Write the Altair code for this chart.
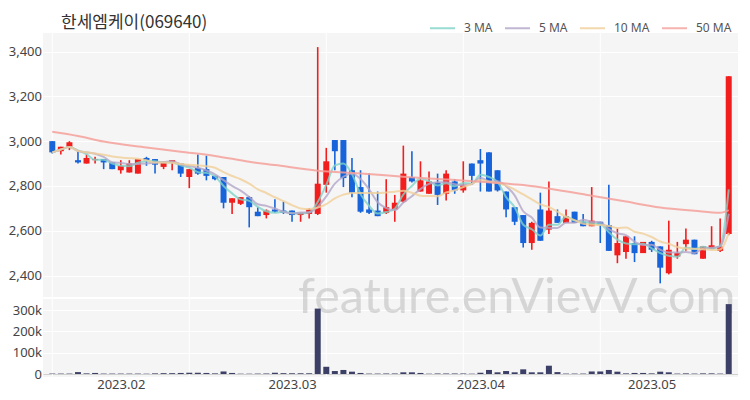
import altair as alt
import pandas as pd

TITLE = "한세엠케이(069640)"
WATERMARK = "feature.enVievV.com"

dates = [
    "2023-01-18", "2023-01-19", "2023-01-20", "2023-01-25", "2023-01-26", "2023-01-27", "2023-01-30", "2023-01-31",
    "2023-02-01", "2023-02-02", "2023-02-03", "2023-02-06", "2023-02-07", "2023-02-08", "2023-02-09", "2023-02-10",
    "2023-02-13", "2023-02-14", "2023-02-15", "2023-02-16", "2023-02-17", "2023-02-20", "2023-02-21", "2023-02-22",
    "2023-02-23", "2023-02-24", "2023-02-27", "2023-02-28",
    "2023-03-02", "2023-03-03", "2023-03-06", "2023-03-07", "2023-03-08", "2023-03-09", "2023-03-10", "2023-03-13",
    "2023-03-14", "2023-03-15", "2023-03-16", "2023-03-17", "2023-03-20", "2023-03-21", "2023-03-22", "2023-03-23",
    "2023-03-24", "2023-03-27", "2023-03-28", "2023-03-29", "2023-03-30", "2023-03-31",
    "2023-04-03", "2023-04-04", "2023-04-05", "2023-04-06", "2023-04-07", "2023-04-10", "2023-04-11", "2023-04-12",
    "2023-04-13", "2023-04-14", "2023-04-17", "2023-04-18", "2023-04-19", "2023-04-20", "2023-04-21", "2023-04-24",
    "2023-04-25", "2023-04-26", "2023-04-27", "2023-04-28",
    "2023-05-02", "2023-05-03", "2023-05-04", "2023-05-08", "2023-05-09", "2023-05-10", "2023-05-11", "2023-05-12",
    "2023-05-15", "2023-05-16",
]

opens = [3000, 2955, 2975, 2915, 2900, 2915, 2920, 2905, 2870, 2860,
         2855, 2925, 2920, 2885, 2905, 2900, 2840, 2880, 2875, 2845,
         2840, 2725, 2720, 2750, 2685, 2670, 2695, 2690, 2690, 2670,
         2675, 2675, 2805, 3005, 3005, 2870, 2795, 2695, 2690, 2680,
         2695, 2730, 2840, 2775, 2765, 2815, 2765, 2820, 2780, 2900,
         2915, 2950, 2870, 2775, 2705, 2670, 2545, 2695, 2605, 2665,
         2635, 2685, 2640, 2620, 2640, 2625, 2490, 2505, 2545, 2500,
         2550, 2530, 2410, 2485, 2540, 2560, 2475, 2520, 2510, 2585]
highs = [3000, 2975, 3000, 2960, 2940, 2930, 2920, 2905, 2915, 2915,
         2920, 2930, 2920, 2905, 2915, 2900, 2875, 2940, 2935, 2845,
         2840, 2745, 2750, 2755, 2705, 2695, 2740, 2730, 2690, 2680,
         2700, 3420, 2970, 3005, 3005, 2925, 2870, 2855, 2775, 2830,
         2760, 2980, 2955, 2910, 2865, 2855, 2870, 2830, 2910, 2900,
         2965, 2950, 2870, 2775, 2705, 2670, 2640, 2770, 2820, 2695,
         2695, 2685, 2675, 2795, 2640, 2805, 2610, 2575, 2575, 2550,
         2555, 2530, 2645, 2550, 2610, 2560, 2530, 2620, 2655, 3290]
lows = [2945, 2940, 2960, 2900, 2900, 2900, 2875, 2875, 2855, 2860,
        2855, 2890, 2855, 2875, 2870, 2840, 2790, 2850, 2825, 2825,
        2700, 2675, 2715, 2615, 2665, 2655, 2680, 2675, 2640, 2640,
        2655, 2670, 2770, 2870, 2795, 2750, 2680, 2675, 2665, 2675,
        2640, 2725, 2815, 2775, 2765, 2715, 2735, 2765, 2770, 2805,
        2775, 2775, 2775, 2660, 2625, 2525, 2515, 2555, 2585, 2635,
        2635, 2635, 2620, 2620, 2545, 2510, 2455, 2475, 2460, 2500,
        2505, 2365, 2405, 2475, 2510, 2495, 2475, 2520, 2505, 2580]
closes = [2950, 2975, 2995, 2905, 2925, 2920, 2905, 2875, 2890, 2900,
          2920, 2915, 2895, 2905, 2915, 2855, 2875, 2855, 2845, 2830,
          2725, 2745, 2750, 2705, 2665, 2690, 2685, 2680, 2670, 2680,
          2695, 2810, 2910, 2955, 2835, 2770, 2685, 2680, 2665, 2705,
          2725, 2855, 2820, 2825, 2820, 2760, 2855, 2780, 2805, 2845,
          2900, 2775, 2780, 2695, 2640, 2545, 2635, 2555, 2690, 2635,
          2665, 2635, 2620, 2645, 2625, 2510, 2545, 2575, 2500, 2550,
          2515, 2435, 2515, 2500, 2560, 2495, 2530, 2535, 2530, 3290]
volumes = [2000, 2000, 2000, 9000, 3000, 5000, 2000, 2000, 2000, 2000,
           2000, 1500, 3000, 4000, 4000, 5000, 6000, 6000, 5000, 3000,
           12000, 5000, 1500, 1500, 2000, 2500, 6000, 4000, 3500, 3500,
           3500, 307000, 34000, 14000, 19000, 11000, 5000, 2000, 2000, 2500,
           2500, 8000, 8000, 5000, 1500, 2500, 2500, 2500, 2500, 1500,
           6000, 19000, 8000, 14000, 8000, 22000, 8000, 8000, 39000, 9000,
           2000, 2000, 2000, 12000, 12000, 19000, 11000, 3000, 5000, 5000,
           3000, 11000, 8000, 2000, 3000, 2000, 3000, 3000, 2000, 328000]

# 50-day moving average (needs history before the window)
ma50_idx = [0, 3, 6, 11, 15, 19, 23, 26, 31, 36, 41, 46, 50, 53, 55, 59, 63, 67, 71, 75, 78, 79]
ma50_val = [3042, 3023, 2998, 2972, 2953, 2934, 2908, 2893, 2868, 2856, 2841, 2829, 2819, 2811,
            2804, 2782, 2756, 2730, 2704, 2689, 2680, 2692]

ma_names = ["3 MA", "5 MA", "10 MA", "50 MA"]
ma_colors = ["#7fd3c8", "#b3a6c8", "#f0cf98", "#f5a09a"]
grid_idx = [0, 16, 32, 48, 64]
price_ticks = [2400, 2600, 2800, 3000, 3200, 3400]
volume_ticks = [0, 100000, 200000, 300000]

RED = "#f21d1d"
BLUE = "#1763d9"
VOL = "#3d4066"
PANEL = "#f5f5f5"
LABEL = "#444444"

n = len(dates)
df = pd.DataFrame({"idx": list(range(n)), "date": dates, "open": opens, "high": highs,
                   "low": lows, "close": closes, "volume": volumes})
df50 = pd.DataFrame({"idx": ma50_idx, "value": ma50_val, "series": ["50 MA"] * len(ma50_idx)})
grid_df = pd.DataFrame({"idx": grid_idx})

# month ticks: first trading day of each month
tick_idx, tick_lab = [], []
for i, d in enumerate(dates):
    if i > 0 and d[5:7] != dates[i - 1][5:7]:
        tick_idx.append(i)
        tick_lab.append(d[:4] + "." + d[5:7])
label_expr = "".join(f"datum.value == {i} ? '{l}' : " for i, l in zip(tick_idx, tick_lab)) + "''"

x_scale = alt.Scale(domain=[-0.5, n - 0.5], nice=False, zero=False)
price_scale = alt.Scale(domain=[2304, 3483], nice=False, zero=False)
vol_scale = alt.Scale(domain=[-14000, 352000], nice=False, zero=False)

x_none = alt.X("idx:Q", scale=x_scale, axis=None)
x_vol_axis = alt.Axis(values=tick_idx, labelExpr=label_expr, grid=False, ticks=False, domain=False,
                      labelFontSize=13, labelColor=LABEL, labelPadding=1, labelFont="Noto Sans",
                      title=None, labelOverlap=False)
x_vol = alt.X("idx:Q", scale=x_scale, axis=x_vol_axis)

price_axis = alt.Axis(values=price_ticks, labelExpr="format(datum.value, ',')", grid=True,
                      gridColor="white", gridWidth=1,
                      domain=False, ticks=False, labelPadding=1.5, labelFontSize=13, labelColor=LABEL,
                      labelFont="Noto Sans", minExtent=35, maxExtent=35, title=None)
vol_axis = alt.Axis(values=volume_ticks, labelExpr="format(datum.value, '~s')", grid=True,
                    gridColor={"condition": {"test": "datum.value === 0", "value": "#cfcfcf"}, "value": "white"},
                    gridWidth=1, domain=False, ticks=False, labelPadding=1.5, labelFontSize=13,
                    labelColor=LABEL, labelFont="Noto Sans", minExtent=35, maxExtent=35, title=None)

candle_color = {"condition": {"test": "datum.close >= datum.open", "value": RED}, "value": BLUE}
ma_scale = alt.Scale(domain=ma_names, range=ma_colors)
ma_legend = alt.Legend(orient="none", legendX=386, legendY=-18.5, direction="horizontal", title=None,
                       symbolType="stroke", symbolSize=625, symbolStrokeWidth=2, labelFontSize=12,
                       labelColor="#555555", labelFont="Noto Sans", labelOffset=8, columnPadding=8,
                       padding=0, offset=0)

vgrid_price = alt.Chart(grid_df).mark_rule(color="white", strokeWidth=1).encode(x=x_none)
wicks = alt.Chart(df).mark_rule(strokeWidth=1.6).encode(
    x=x_none, y=alt.Y("low:Q", scale=price_scale, axis=price_axis), y2="high:Q", color=candle_color)
bodies = alt.Chart(df).mark_bar(size=6, orient="vertical").encode(
    x=x_none, y=alt.Y("open:Q", scale=price_scale, axis=price_axis), y2="close:Q", color=candle_color)
ma_lines = (
    alt.Chart(df)
    .transform_window(ma3="mean(close)", frame=[-2, 0], sort=[{"field": "idx"}])
    .transform_window(ma5="mean(close)", frame=[-4, 0], sort=[{"field": "idx"}])
    .transform_window(ma10="mean(close)", frame=[-9, 0], sort=[{"field": "idx"}])
    .transform_fold(["ma3", "ma5", "ma10"], as_=["key", "value"])
    .transform_calculate(series="datum.key == 'ma3' ? '3 MA' : (datum.key == 'ma5' ? '5 MA' : '10 MA')")
    .mark_line(strokeWidth=2, opacity=0.8, interpolate="monotone")
    .encode(x=x_none, y=alt.Y("value:Q", scale=price_scale, axis=price_axis),
            color=alt.Color("series:N", scale=ma_scale, legend=ma_legend))
)
ma50_line = alt.Chart(df50).mark_line(strokeWidth=2, opacity=0.85, interpolate="monotone").encode(
    x=x_none, y=alt.Y("value:Q", scale=price_scale, axis=price_axis),
    color=alt.Color("series:N", scale=ma_scale, legend=ma_legend))
title_layer = alt.Chart(pd.DataFrame({"t": [TITLE]})).mark_text(
    align="left", baseline="alphabetic", fontSize=17, font="Noto Sans CJK KR", color="#333333"
).encode(x=alt.value(18), y=alt.value(-5), text="t:N")

price = alt.layer(vgrid_price, wicks, bodies, ma_lines, ma50_line, title_layer).properties(width=695, height=264)

vgrid_vol = alt.Chart(grid_df).mark_rule(color="white", strokeWidth=1).encode(x=x_vol)
watermark = alt.Chart(pd.DataFrame({"t": [WATERMARK]})).mark_text(
    align="left", baseline="alphabetic", fontSize=48.5, font="Lato", color="#b0b0b0", opacity=0.45
).encode(x=alt.value(255), y=alt.value(14), text="t:N")
vol_bars = alt.Chart(df).mark_bar(size=6, color=VOL, orient="vertical").encode(
    x=x_vol, y=alt.Y("volume:Q", scale=vol_scale, axis=vol_axis))
volume = alt.layer(vgrid_vol, watermark, vol_bars).properties(width=695, height=78)

chart = (
    alt.vconcat(price, volume, spacing=2, bounds="flush")
    .properties(padding={"left": 0, "top": 6, "right": 0, "bottom": 0})
    .configure_view(stroke=None, fill=PANEL)
)

chart.save("out.html", embed_options={"renderer": "svg", "actions": False})
